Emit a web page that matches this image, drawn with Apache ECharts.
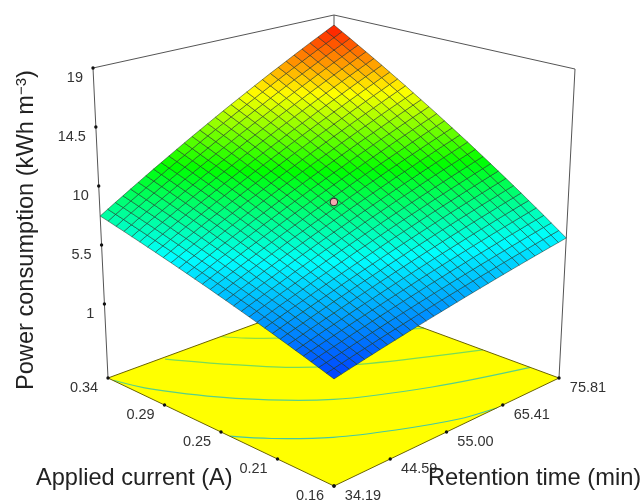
<!DOCTYPE html>
<html><head><meta charset="utf-8">
<style>html,body{margin:0;padding:0;background:#fff}#c{width:643px;height:504px}</style>
<script src="https://cdn.jsdelivr.net/npm/echarts@6/dist/echarts.min.js"></script>
</head><body><div id="c"></div>
<script>
const currentTicks=[0.34,0.295,0.25,0.205,0.16];
const currentLabels=['0.34','0.29','0.25','0.21','0.16'];
const timeTicks=[75.81,65.41,55.00,44.59,34.19];
const timeLabels=['75.81','65.41','55.00','44.59','34.19'];
const powerTicks=[19,14.5,10,5.5,1];
const powerLabels=['19','14.5','10','5.5','1'];
const centerPoint=[0.25,55.00,9.09];
const contourA=[[0.243,34.19],[0.225,37.77],[0.202,43.76],[0.183,50.96],[0.166,58.91],[0.16,64.28]];
const contourB=[[0.336,34.27],[0.314,36.31],[0.275,42.64],[0.236,51.71],[0.207,63.24],[0.183,75.81]];
const contourC=[[0.338,44.24],[0.309,49.55],[0.28,55.42],[0.256,62.7],[0.221,75.81]];
const contourD=[[0.34,55],[0.329,57.08],[0.313,61.24],[0.295,67.49],[0.268,75.81]];
// rows: applied current 0.16 -> 0.34, columns: retention time 34.19 -> 75.81
const powerGrid=[
[2.47,2.59,2.71,2.83,2.95,3.07,3.19,3.31,3.43,3.55,3.67,3.79,3.91,4.03,4.15,4.27,4.39,4.51,4.63,4.75,4.87,4.99,5.11,5.23,5.35,5.47,5.59,5.71,5.83,5.95,6.07],
[2.64,2.77,2.90,3.03,3.16,3.28,3.41,3.54,3.67,3.79,3.92,4.05,4.18,4.30,4.43,4.56,4.69,4.81,4.94,5.07,5.20,5.32,5.45,5.58,5.71,5.83,5.96,6.09,6.22,6.34,6.47],
[2.82,2.95,3.09,3.22,3.36,3.50,3.63,3.77,3.90,4.04,4.17,4.31,4.44,4.58,4.71,4.85,4.98,5.12,5.25,5.39,5.52,5.66,5.79,5.93,6.06,6.20,6.33,6.47,6.60,6.74,6.87],
[2.99,3.14,3.28,3.42,3.56,3.71,3.85,3.99,4.14,4.28,4.42,4.57,4.71,4.85,4.99,5.14,5.28,5.42,5.57,5.71,5.85,6.00,6.14,6.28,6.42,6.57,6.71,6.85,7.00,7.14,7.28],
[3.17,3.32,3.47,3.62,3.77,3.92,4.07,4.22,4.37,4.52,4.67,4.82,4.97,5.12,5.27,5.43,5.58,5.73,5.88,6.03,6.18,6.33,6.48,6.63,6.78,6.93,7.08,7.23,7.38,7.53,7.68],
[3.34,3.50,3.66,3.82,3.98,4.13,4.29,4.45,4.61,4.77,4.92,5.08,5.24,5.40,5.56,5.71,5.87,6.03,6.19,6.35,6.50,6.66,6.82,6.98,7.14,7.29,7.45,7.61,7.77,7.93,8.08],
[3.52,3.68,3.85,4.02,4.18,4.35,4.51,4.68,4.84,5.01,5.17,5.34,5.51,5.67,5.84,6.00,6.17,6.33,6.50,6.66,6.83,7.00,7.16,7.33,7.49,7.66,7.82,7.99,8.16,8.32,8.49],
[3.69,3.87,4.04,4.21,4.39,4.56,4.73,4.91,5.08,5.25,5.43,5.60,5.77,5.94,6.12,6.29,6.46,6.64,6.81,6.98,7.16,7.33,7.50,7.68,7.85,8.02,8.20,8.37,8.54,8.72,8.89],
[3.87,4.05,4.23,4.41,4.59,4.77,4.95,5.13,5.31,5.50,5.68,5.86,6.04,6.22,6.40,6.58,6.76,6.94,7.12,7.30,7.48,7.66,7.85,8.03,8.21,8.39,8.57,8.75,8.93,9.11,9.29],
[4.04,4.23,4.42,4.61,4.80,4.98,5.17,5.36,5.55,5.74,5.93,6.11,6.30,6.49,6.68,6.87,7.06,7.25,7.43,7.62,7.81,8.00,8.19,8.38,8.56,8.75,8.94,9.13,9.32,9.51,9.69],
[4.22,4.41,4.61,4.81,5.00,5.20,5.39,5.59,5.79,5.98,6.18,6.37,6.57,6.77,6.96,7.16,7.35,7.55,7.75,7.94,8.14,8.33,8.53,8.73,8.92,9.12,9.31,9.51,9.71,9.90,10.10],
[4.39,4.60,4.80,5.00,5.21,5.41,5.61,5.82,6.02,6.22,6.43,6.63,6.84,7.04,7.24,7.45,7.65,7.85,8.06,8.26,8.46,8.67,8.87,9.07,9.28,9.48,9.69,9.89,10.09,10.30,10.50],
[4.57,4.78,4.99,5.20,5.41,5.62,5.83,6.05,6.26,6.47,6.68,6.89,7.10,7.31,7.52,7.73,7.95,8.16,8.37,8.58,8.79,9.00,9.21,9.42,9.64,9.85,10.06,10.27,10.48,10.69,10.90],
[4.74,4.96,5.18,5.40,5.62,5.83,6.05,6.27,6.49,6.71,6.93,7.15,7.37,7.59,7.80,8.02,8.24,8.46,8.68,8.90,9.12,9.34,9.56,9.77,9.99,10.21,10.43,10.65,10.87,11.09,11.31],
[4.92,5.14,5.37,5.60,5.82,6.05,6.27,6.50,6.73,6.95,7.18,7.41,7.63,7.86,8.09,8.31,8.54,8.77,8.99,9.22,9.44,9.67,9.90,10.12,10.35,10.58,10.80,11.03,11.26,11.48,11.71],
[5.09,5.32,5.56,5.79,6.03,6.26,6.49,6.73,6.96,7.20,7.43,7.66,7.90,8.13,8.37,8.60,8.83,9.07,9.30,9.54,9.77,10.00,10.24,10.47,10.71,10.94,11.17,11.41,11.64,11.88,12.11],
[5.27,5.51,5.75,5.99,6.23,6.47,6.71,6.96,7.20,7.44,7.68,7.92,8.16,8.41,8.65,8.89,9.13,9.37,9.61,9.85,10.10,10.34,10.58,10.82,11.06,11.30,11.55,11.79,12.03,12.27,12.51],
[5.44,5.69,5.94,6.19,6.44,6.69,6.94,7.18,7.43,7.68,7.93,8.18,8.43,8.68,8.93,9.18,9.43,9.68,9.93,10.17,10.42,10.67,10.92,11.17,11.42,11.67,11.92,12.17,12.42,12.67,12.92],
[5.61,5.87,6.13,6.39,6.64,6.90,7.16,7.41,7.67,7.93,8.18,8.44,8.70,8.95,9.21,9.47,9.72,9.98,10.24,10.49,10.75,11.01,11.26,11.52,11.78,12.03,12.29,12.55,12.81,13.06,13.32],
[5.79,6.05,6.32,6.58,6.85,7.11,7.38,7.64,7.90,8.17,8.43,8.70,8.96,9.23,9.49,9.76,10.02,10.28,10.55,10.81,11.08,11.34,11.61,11.87,12.13,12.40,12.66,12.93,13.19,13.46,13.72],
[5.96,6.24,6.51,6.78,7.05,7.32,7.60,7.87,8.14,8.41,8.68,8.96,9.23,9.50,9.77,10.04,10.32,10.59,10.86,11.13,11.40,11.68,11.95,12.22,12.49,12.76,13.04,13.31,13.58,13.85,14.12],
[6.14,6.42,6.70,6.98,7.26,7.54,7.82,8.10,8.38,8.66,8.94,9.21,9.49,9.77,10.05,10.33,10.61,10.89,11.17,11.45,11.73,12.01,12.29,12.57,12.85,13.13,13.41,13.69,13.97,14.25,14.53],
[6.31,6.60,6.89,7.18,7.46,7.75,8.04,8.32,8.61,8.90,9.19,9.47,9.76,10.05,10.33,10.62,10.91,11.20,11.48,11.77,12.06,12.34,12.63,12.92,13.21,13.49,13.78,14.07,14.35,14.64,14.93],
[6.49,6.78,7.08,7.37,7.67,7.96,8.26,8.55,8.85,9.14,9.44,9.73,10.03,10.32,10.62,10.91,11.20,11.50,11.79,12.09,12.38,12.68,12.97,13.27,13.56,13.86,14.15,14.45,14.74,15.04,15.33],
[6.66,6.97,7.27,7.57,7.87,8.18,8.48,8.78,9.08,9.38,9.69,9.99,10.29,10.59,10.90,11.20,11.50,11.80,12.11,12.41,12.71,13.01,13.32,13.62,13.92,14.22,14.53,14.83,15.13,15.43,15.74],
[6.84,7.15,7.46,7.77,8.08,8.39,8.70,9.01,9.32,9.63,9.94,10.25,10.56,10.87,11.18,11.49,11.80,12.11,12.42,12.73,13.04,13.35,13.66,13.97,14.28,14.59,14.90,15.21,15.52,15.83,16.14],
[7.01,7.33,7.65,7.97,8.28,8.60,8.92,9.24,9.55,9.87,10.19,10.51,10.82,11.14,11.46,11.78,12.09,12.41,12.73,13.05,13.36,13.68,14.00,14.32,14.63,14.95,15.27,15.59,15.90,16.22,16.54],
[7.19,7.51,7.84,8.16,8.49,8.81,9.14,9.46,9.79,10.11,10.44,10.76,11.09,11.41,11.74,12.07,12.39,12.72,13.04,13.37,13.69,14.02,14.34,14.67,14.99,15.32,15.64,15.97,16.29,16.62,16.94],
[7.36,7.70,8.03,8.36,8.69,9.03,9.36,9.69,10.02,10.36,10.69,11.02,11.36,11.69,12.02,12.35,12.69,13.02,13.35,13.68,14.02,14.35,14.68,15.02,15.35,15.68,16.01,16.35,16.68,17.01,17.35],
[7.54,7.88,8.22,8.56,8.90,9.24,9.58,9.92,10.26,10.60,10.94,11.28,11.62,11.96,12.30,12.64,12.98,13.32,13.66,14.00,14.34,14.68,15.03,15.37,15.71,16.05,16.39,16.73,17.07,17.41,17.75],
[7.71,8.06,8.41,8.75,9.10,9.45,9.80,10.15,10.49,10.84,11.19,11.54,11.89,12.23,12.58,12.93,13.28,13.63,13.97,14.32,14.67,15.02,15.37,15.71,16.06,16.41,16.76,17.11,17.45,17.80,18.15]
];
const uMin=0.16,uMax=0.34,tMin=34.19,tMax=75.81,zMin=-4.64,zMax=19;
// box corners on the page: [front,left,right,back]
const floorBox=[[334,486],[108,378],[559,378],[334,295]];
const topBox=[[334,130],[93,68],[575,69],[334,15]];
function quad(q,a,b,k){return q[0][k]*(1-a)*(1-b)+q[1][k]*a*(1-b)+q[2][k]*(1-a)*b+q[3][k]*a*b;}
function project(u,t,z){
  const a=(u-uMin)/(uMax-uMin),b=(t-tMin)/(tMax-tMin),c=(z-zMin)/(zMax-zMin);
  return [quad(floorBox,a,b,0)*(1-c)+quad(topBox,a,b,0)*c, quad(floorBox,a,b,1)*(1-c)+quad(topBox,a,b,1)*c];
}
const stops=[[0,64,255],[0,255,255],[0,255,0],[255,255,0],[255,20,0]];
const zLow=2.47,zHigh=18.15;
function colour(z){
  let s=(z-zLow)/(zHigh-zLow)*4; s=Math.max(0,Math.min(3.9999,s));
  const i=Math.floor(s),f=s-i,p=stops[i],q=stops[i+1];
  return 'rgb('+p.map((v,k)=>Math.round(v+(q[k]-v)*f)).join(',')+')';
}
const N=powerGrid.length-1;
const cells=[];
for(let i=0;i<N;i++)for(let j=0;j<N;j++)cells.push([i,j]);
const uAt=i=>uMin+(uMax-uMin)*i/N, tAt=j=>tMin+(tMax-tMin)*j/N;
const edges=[
 [[uMax,tMin,zMin],[uMax,tMin,zMax]],[[uMin,tMax,zMin],[uMin,tMax,zMax]],[[uMax,tMax,zMin],[uMax,tMax,zMax]],
 [[uMax,tMin,zMax],[uMax,tMax,zMax]],[[uMin,tMax,zMax],[uMax,tMax,zMax]]
];
const floorEdges=[
 [[uMax,tMin,zMin],[uMax,tMax,zMin]],[[uMin,tMax,zMin],[uMax,tMax,zMin]],
 [[uMax,tMin,zMin],[uMin,tMin,zMin]],[[uMin,tMin,zMin],[uMin,tMax,zMin]]
];
const contours=[contourA,contourB,contourC,contourD];
const contourColours=['#46c8a0','#58d088','#78dc58','#90e040'];
const dots=[];const labels=[];
powerTicks.forEach((z,i)=>{dots.push([uMax,tMin,z]);labels.push([uMax,tMin,z,powerLabels[i],'z']);});
currentTicks.forEach((u,i)=>{dots.push([u,tMin,zMin]);labels.push([u,tMin,zMin,currentLabels[i],'u']);});
timeTicks.forEach((t,i)=>{dots.push([uMin,t,zMin]);labels.push([uMin,t,zMin,timeLabels[i],'t']);});
const offset={z:[-10,10,'right'],u:[-24,10,'center'],t:[29,10,'center']};
function at(api,p){return api.coord(project(p[0],p[1],p[2]));}
const base={type:'custom',coordinateSystem:'cartesian2d',silent:true,clip:false,animation:false};
const option={
 animation:false,backgroundColor:'#fff',
 grid:{left:0,right:0,top:0,bottom:0},
 xAxis:{type:'value',min:0,max:643,show:false},
 yAxis:{type:'value',min:0,max:504,inverse:true,show:false},
 series:[
  Object.assign({},base,{z:1,data:[0],encode:{x:[],y:[]},renderItem(p,api){
    const c=[[uMin,tMin],[uMax,tMin],[uMax,tMax],[uMin,tMax]].map(q=>at(api,[q[0],q[1],zMin]));
    return {type:'polygon',shape:{points:c},style:{fill:'#ffff00'}};
  }}),
  Object.assign({},base,{z:2,data:contours.map((c,i)=>i),encode:{x:[],y:[]},renderItem(p,api){
    const i=p.dataIndex;
    return {type:'polyline',shape:{points:contours[i].map(q=>at(api,[q[0],q[1],zMin])),smooth:0.35},style:{fill:'none',stroke:contourColours[i],lineWidth:1.2}};
  }}),
  Object.assign({},base,{z:3,data:edges.map((e,i)=>i),encode:{x:[],y:[]},renderItem(p,api){
    const e=edges[p.dataIndex],a=at(api,e[0]),b=at(api,e[1]);
    return {type:'line',shape:{x1:a[0],y1:a[1],x2:b[0],y2:b[1]},style:{stroke:'#555',lineWidth:1}};
  }}),
  Object.assign({},base,{z:3,data:floorEdges.map((e,i)=>i),encode:{x:[],y:[]},renderItem(p,api){
    const e=floorEdges[p.dataIndex],a=at(api,e[0]),b=at(api,e[1]);
    return {type:'line',shape:{x1:a[0],y1:a[1],x2:b[0],y2:b[1]},style:{stroke:'#6b6400',lineWidth:1}};
  }}),
  Object.assign({},base,{z:4,data:cells,encode:{x:0,y:1},progressive:0,renderItem(p,api){
    const i=cells[p.dataIndex][0],j=cells[p.dataIndex][1];
    const g=powerGrid;
    const pts=[at(api,[uAt(i),tAt(j),g[i][j]]),at(api,[uAt(i+1),tAt(j),g[i+1][j]]),at(api,[uAt(i+1),tAt(j+1),g[i+1][j+1]]),at(api,[uAt(i),tAt(j+1),g[i][j+1]])];
    const m=(g[i][j]+g[i+1][j]+g[i+1][j+1]+g[i][j+1])/4;
    return {type:'polygon',shape:{points:pts},style:{fill:colour(m),stroke:'rgba(20,40,30,0.58)',lineWidth:0.85}};
  }}),
  Object.assign({},base,{z:5,data:dots,encode:{x:0,y:1},renderItem(p,api){
    const c=at(api,dots[p.dataIndex]);
    return {type:'circle',shape:{cx:c[0],cy:c[1],r:1.7},style:{fill:'#111'}};
  }}),
  Object.assign({},base,{z:6,data:[centerPoint],encode:{x:0,y:1},renderItem(p,api){
    const c=at(api,centerPoint);
    return {type:'circle',shape:{cx:c[0],cy:c[1],r:3.8},style:{fill:'#f5a9b0',stroke:'#2a2a2a',lineWidth:1}};
  }}),
  Object.assign({},base,{z:7,data:labels.map((l,i)=>i),encode:{x:[],y:[]},renderItem(p,api){
    const l=labels[p.dataIndex],c=at(api,l),o=offset[l[4]];
    return {type:'text',x:c[0]+o[0],y:c[1]+o[1],style:{text:l[3],fill:'#333',font:'14.5px "Liberation Sans"',textAlign:o[2],textVerticalAlign:'middle'}};
  }})
 ],
 graphic:[
  {type:'text',z:100,x:36,y:478,style:{text:'Applied current (A)',fill:'#222',font:'23.6px "Liberation Sans"',textVerticalAlign:'middle'}},
  {type:'text',z:100,x:428,y:478,style:{text:'Retention time (min)',fill:'#222',font:'23.7px "Liberation Sans"',textVerticalAlign:'middle'}},
  {type:'text',z:100,x:26,y:390,rotation:Math.PI/2,style:{text:'{m|Power consumption (kWh m}{s|\u22123}{m|)}',fill:'#222',textVerticalAlign:'middle',rich:{m:{font:'23.6px "Liberation Sans"',fill:'#222'},s:{font:'15px "Liberation Sans"',fill:'#222',verticalAlign:'top'}}}}
 ]
};
const chart=echarts.init(document.getElementById('c'),null,{renderer:'canvas'});
chart.setOption(option);
</script></body></html>
